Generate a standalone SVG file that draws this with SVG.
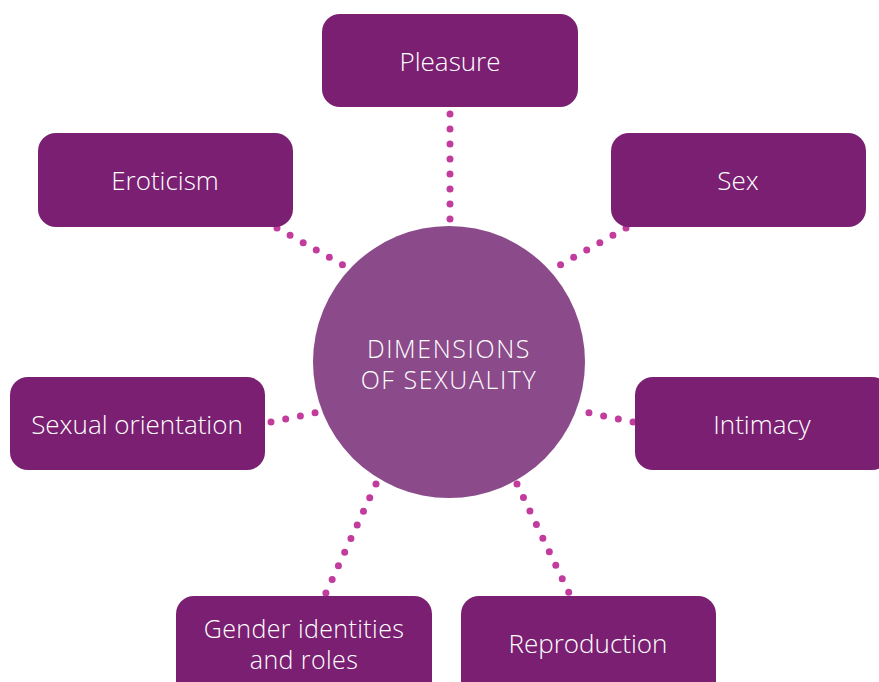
<svg xmlns="http://www.w3.org/2000/svg" width="879" height="682" viewBox="0 0 879 682">
<style>
.box{fill:#7a1f72}
.lbl{font-family:"Open Sans","Liberation Sans",sans-serif;font-weight:300;font-size:26px;fill:#ffffff;text-anchor:middle}
.two{font-size:25px;letter-spacing:0.4px}
.ctr{letter-spacing:1.6px}
.dot{stroke:#c13c9c;stroke-width:7;stroke-linecap:round;stroke-dasharray:0 15;fill:none}
</style>
<rect width="879" height="682" fill="#ffffff"/>
<g id="connectors">
<line class="dot" x1="450" y1="114" x2="450" y2="229"/>
<line class="dot" x1="277" y1="228" x2="352" y2="270"/>
<line class="dot" x1="626" y1="228" x2="551" y2="270"/>
<line class="dot" x1="271" y1="422" x2="319" y2="412"/>
<line class="dot" x1="633" y1="422" x2="585" y2="412"/>
<line class="dot" x1="376" y1="484" x2="325" y2="595"/>
<line class="dot" x1="517" y1="484" x2="570" y2="595"/>
</g>
<g id="center">
<circle cx="449" cy="362" r="136" fill="#8b4a8a"/>
<text class="lbl two ctr" x="449" y="358">DIMENSIONS</text>
<text class="lbl two ctr" x="449" y="389">OF SEXUALITY</text>
</g>
<g id="pleasure">
<rect class="box" x="322" y="14" width="256" height="93" rx="18"/>
<text class="lbl" x="450" y="71">Pleasure</text>
</g>
<g id="eroticism">
<rect class="box" x="38" y="133" width="255" height="94" rx="18"/>
<text class="lbl" x="165" y="190">Eroticism</text>
</g>
<g id="sex">
<rect class="box" x="611" y="133" width="255" height="94" rx="18"/>
<text class="lbl" x="738" y="190">Sex</text>
</g>
<g id="sexual-orientation">
<rect class="box" x="10" y="377" width="255" height="93" rx="18"/>
<text class="lbl" x="137" y="434">Sexual orientation</text>
</g>
<g id="intimacy">
<rect class="box" x="635" y="377" width="255" height="93" rx="18"/>
<text class="lbl" x="762" y="434">Intimacy</text>
</g>
<g id="gender">
<rect class="box" x="176" y="596" width="256" height="110" rx="18"/>
<text class="lbl two" x="304" y="638">Gender identities</text>
<text class="lbl two" x="304" y="669">and roles</text>
</g>
<g id="reproduction">
<rect class="box" x="461" y="596" width="255" height="110" rx="18"/>
<text class="lbl" x="588" y="653">Reproduction</text>
</g>
</svg>
